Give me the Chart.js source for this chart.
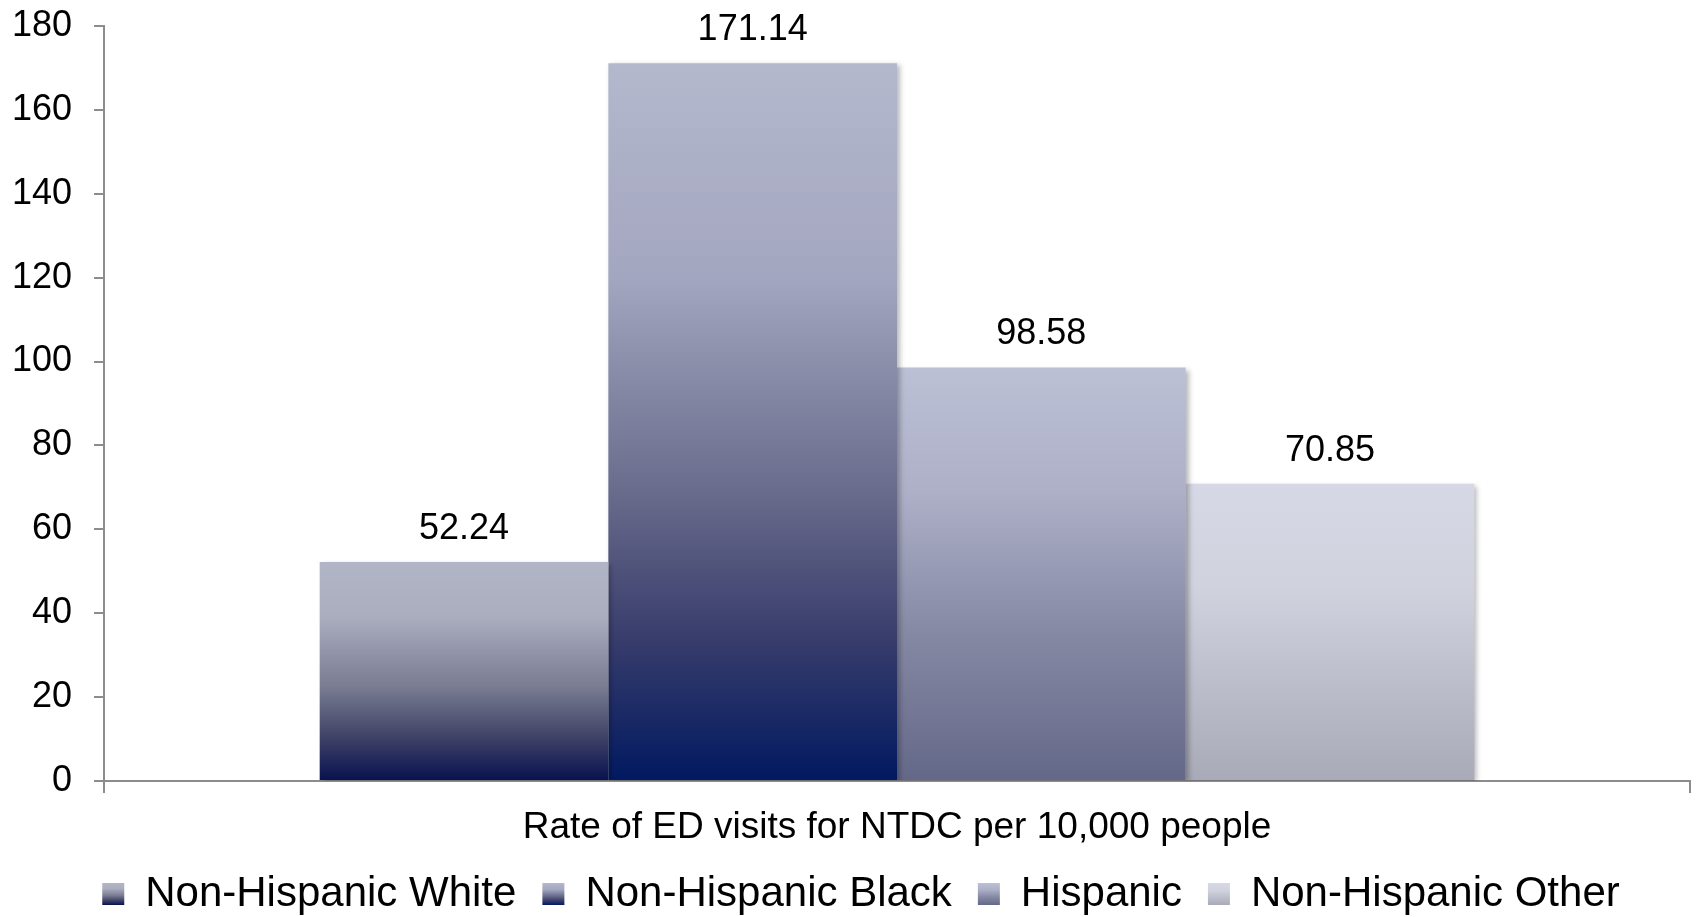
<!DOCTYPE html>
<html>
<head>
<meta charset="utf-8">
<script src="https://cdn.jsdelivr.net/npm/chart.js@4"></script>
<style>
  html, body { margin: 0; padding: 0; background: #fff; }
  #wrap { width: 1696px; height: 917px; position: relative; }
</style>
</head>
<body>
<div id="wrap"><canvas id="edChart"></canvas></div>
<script>
// ED visit rates by race/ethnicity
const categories = ['Rate of ED visits for NTDC per 10,000 people'];
const groups = ['Non-Hispanic White', 'Non-Hispanic Black', 'Hispanic', 'Non-Hispanic Other'];
const rates = [52.24, 171.14, 98.58, 70.85];
const yTicks = [0, 20, 40, 60, 80, 100, 120, 140, 160, 180];

// vertical gradient stops per group (top -> bottom)
const shades = [
  [[0, '#b2b5c5'], [0.25, '#abaebf'], [0.57, '#797c92'], [0.78, '#44476a'], [1, '#08114f']],
  [[0, '#b4b8cd'], [0.3, '#a3a6bf'], [0.6, '#686b8b'], [0.8, '#383d6c'], [1, '#011960']],
  [[0, '#bcc0d5'], [0.3, '#adb0c7'], [0.65, '#8588a3'], [1, '#646888']],
  [[0, '#d6d9e5'], [0.35, '#d0d2de'], [0.65, '#bdbfcc'], [1, '#a8aab8']]
];

const axisGrey = '#8c8c8c';
const FONT = "'Liberation Sans', Arial, sans-serif";
const LEGEND_FONT = 42;
const LEGEND_PAD = 26;
const SWATCH = 22;

function makeGradient(ctx, i, top, bottom) {
  const g = ctx.createLinearGradient(0, top, 0, bottom);
  shades[i].forEach(([p, c]) => g.addColorStop(p, c));
  return g;
}

function barFill(context) {
  const chart = context.chart;
  const y = chart.scales.y;
  const i = context.datasetIndex;
  if (!chart.chartArea || !y) return shades[i][0][1];
  const v = context.raw;
  return makeGradient(chart.ctx, i, y.getPixelForValue(v), y.getPixelForValue(0));
}

// soft drop shadow behind the bars
const barShadow = {
  id: 'barShadow',
  beforeDatasetsDraw(chart) {
    const ctx = chart.ctx;
    ctx.save();
    ctx.shadowColor = 'rgba(0,0,0,0.28)';
    ctx.shadowBlur = 5;
    ctx.shadowOffsetX = 3;
    ctx.shadowOffsetY = 2;
  },
  afterDatasetsDraw(chart) {
    chart.ctx.restore();
  }
};

// value labels above each bar
const valueLabels = {
  id: 'valueLabels',
  afterDatasetsDraw(chart) {
    const ctx = chart.ctx;
    ctx.save();
    ctx.font = '36px ' + FONT;
    ctx.fillStyle = '#000';
    ctx.textAlign = 'center';
    ctx.textBaseline = 'middle';
    chart.data.datasets.forEach((ds, i) => {
      const meta = chart.getDatasetMeta(i);
      meta.data.forEach((bar, j) => {
        ctx.fillText(ds.data[j].toFixed(2), bar.x, bar.y - 33);
      });
    });
    ctx.restore();
  }
};

// nudge the legend row a little to the right
const legendShift = {
  id: 'legendShift',
  afterLayout(chart) {
    if (chart.legend) {
      chart.legend.left += 10;
      chart.legend.right += 10;
    }
  }
};

const datasets = groups.map((name, i) => ({
  label: name,
  data: [rates[i]],
  backgroundColor: barFill,
  borderWidth: 0
}));

const chart = new Chart(document.getElementById('edChart'), {
  type: 'bar',
  data: { labels: categories, datasets: datasets },
  options: {
    responsive: true,
    maintainAspectRatio: false,
    animation: false,
    layout: { padding: { left: 12, right: 6, top: 26, bottom: -8 } },
    datasets: { bar: { barPercentage: 1, categoryPercentage: 0.728 } },
    scales: {
      x: {
        offset: true,
        afterFit(scale) { scale.height = 66; },
        grid: { display: true, drawOnChartArea: false, tickLength: 12, color: axisGrey, lineWidth: 2 },
        border: { color: axisGrey, width: 2 },
        ticks: { color: '#000', padding: 13, font: { family: FONT, size: 37 } }
      },
      y: {
        min: 0,
        max: 180,
        afterFit(scale) {
          scale.width = 92;
          scale.paddingTop = 0;
          scale.paddingBottom = 0;
        },
        afterBuildTicks(scale) { scale.ticks = yTicks.map(v => ({ value: v })); },
        grid: { display: true, drawOnChartArea: false, tickLength: 10, color: axisGrey, lineWidth: 2 },
        border: { color: axisGrey, width: 2 },
        ticks: { color: '#000', padding: 22, font: { family: FONT, size: 36 } }
      }
    },
    plugins: {
      tooltip: { enabled: false },
      legend: {
        position: 'bottom',
        labels: {
          color: '#000',
          font: { family: FONT, size: LEGEND_FONT },
          boxWidth: SWATCH,
          boxHeight: SWATCH,
          padding: LEGEND_PAD,
          generateLabels(chart) {
            const items = Chart.defaults.plugins.legend.labels.generateLabels(chart);
            const legend = chart.legend;
            const boxes = legend ? legend.legendHitBoxes : [];
            items.forEach((item, i) => {
              item.lineWidth = 0;
              item.strokeStyle = 'rgba(0,0,0,0)';
              const hb = boxes[i];
              if (hb && legend.top !== undefined) {
                const top = legend.top + LEGEND_PAD + hb.top + (LEGEND_FONT - SWATCH) / 2;
                item.fillStyle = makeGradient(chart.ctx, i, top, top + SWATCH);
              } else {
                item.fillStyle = shades[i][2][1];
              }
            });
            return items;
          }
        }
      }
    }
  },
  plugins: [barShadow, valueLabels, legendShift]
});
// second pass so the legend swatches pick up their final positions
chart.update();
</script>
</body>
</html>
